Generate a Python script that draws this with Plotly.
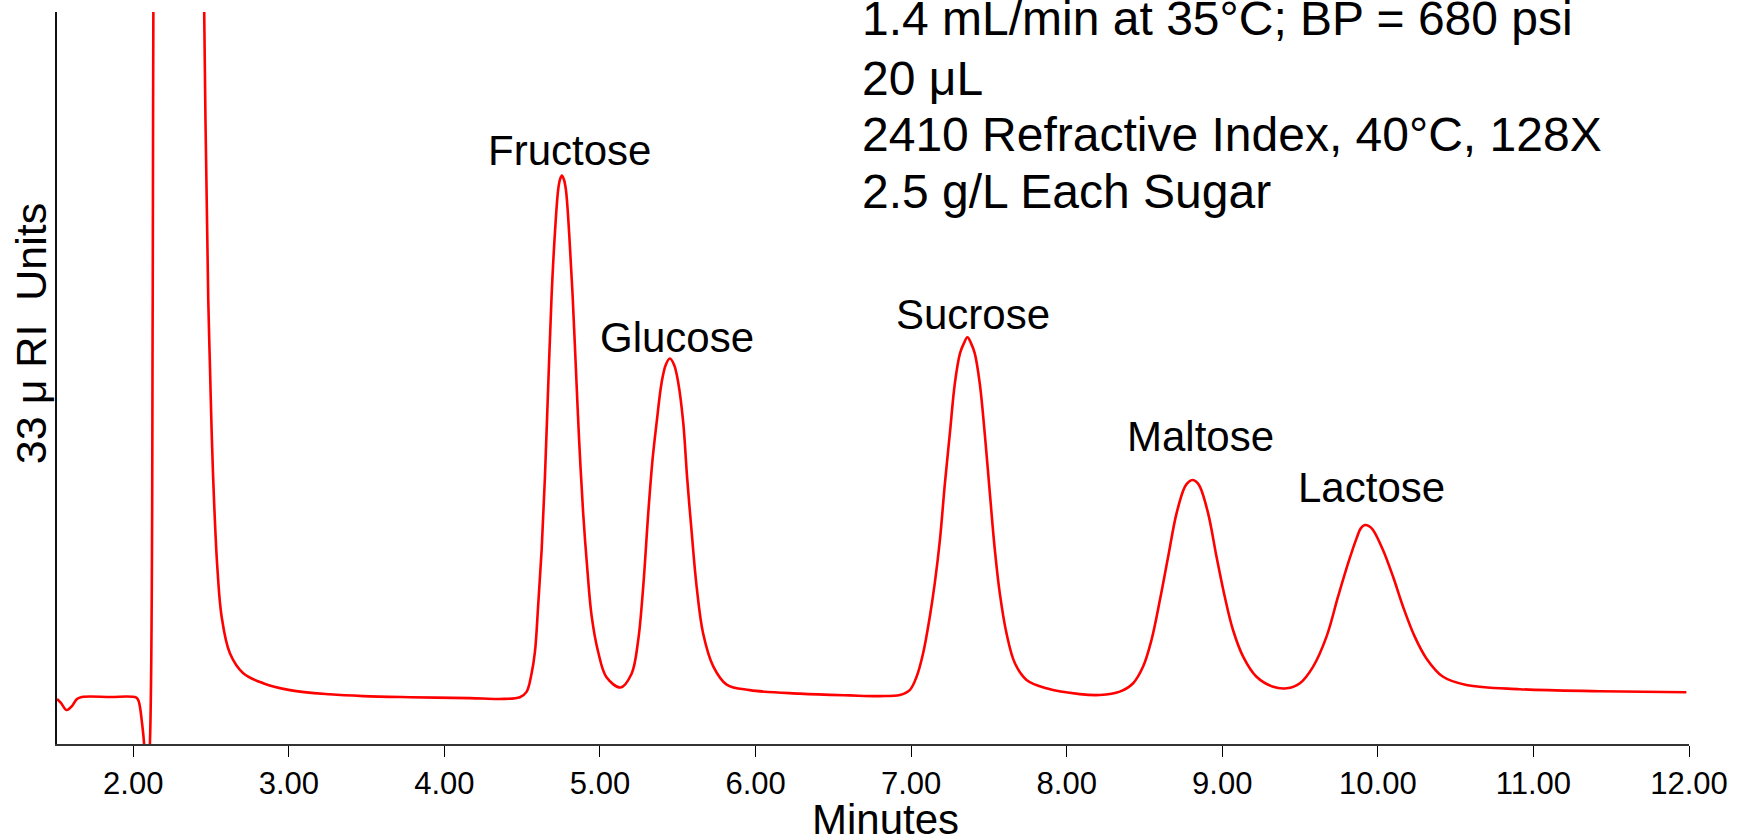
import plotly.graph_objects as go

# Chromatogram trace: retention time (min) and refractive-index response (µRIU)
time_min = [
    1.510, 1.535, 1.572, 1.606, 1.638, 1.670, 1.850, 2.017, 2.032, 2.043,
    2.054, 2.069, 2.085, 2.107, 2.125, 2.129, 2.140, 2.300, 2.445, 2.456,
    2.482, 2.493, 2.504, 2.519, 2.540, 2.568, 2.621, 2.707, 2.835, 3.007,
    3.264, 3.478, 3.779, 4.164, 4.357, 4.485, 4.528, 4.560, 4.582, 4.603,
    4.625, 4.646, 4.667, 4.689, 4.710, 4.731, 4.743, 4.755, 4.768, 4.781,
    4.802, 4.824, 4.845, 4.866, 4.892, 4.918, 4.946, 4.988, 5.042, 5.132,
    5.203, 5.245, 5.278, 5.310, 5.338, 5.364, 5.396, 5.423, 5.449, 5.476,
    5.503, 5.535, 5.560, 5.589, 5.621, 5.663, 5.728, 5.814, 5.963, 6.285,
    6.606, 6.799, 6.927, 6.991, 7.035, 7.077, 7.120, 7.152, 7.185, 7.217,
    7.249, 7.281, 7.314, 7.338, 7.362, 7.386, 7.409, 7.441, 7.473, 7.506,
    7.538, 7.570, 7.613, 7.667, 7.742, 7.870, 8.084, 8.213, 8.341, 8.427,
    8.491, 8.545, 8.599, 8.652, 8.706, 8.760, 8.785, 8.809, 8.833, 8.856,
    8.909, 8.963, 9.016, 9.069, 9.134, 9.220, 9.327, 9.413, 9.499, 9.584,
    9.670, 9.744, 9.809, 9.863, 9.890, 9.916, 9.943, 9.969, 10.033, 10.098,
    10.162, 10.237, 10.312, 10.419, 10.569, 10.912, 11.426, 11.983,
]
signal_uriu = [
    2.03, 1.85, 1.53, 1.71, 2.03, 2.12, 2.12, 2.10, 1.98, 1.67,
    1.08, 0.05, -2.50, 0.05, 20.02, 32.91, 45.00, 80.00, 45.00, 32.91,
    20.02, 17.01, 14.02, 11.00, 7.99, 5.74, 4.09, 3.19, 2.74, 2.43,
    2.24, 2.16, 2.11, 2.07, 2.03, 2.11, 2.35, 3.17, 4.16, 6.29,
    8.75, 12.02, 16.12, 20.22, 23.01, 24.98, 25.45, 25.63, 25.45, 24.98,
    23.01, 20.22, 16.94, 13.67, 10.39, 7.93, 5.79, 4.16, 3.01, 2.55,
    3.17, 4.65, 7.11, 10.39, 12.84, 14.49, 16.29, 17.10, 17.38, 17.10,
    16.29, 14.49, 12.02, 9.57, 7.11, 4.98, 3.50, 2.68, 2.43, 2.27,
    2.19, 2.16, 2.21, 2.43, 3.03, 4.09, 5.74, 7.25, 9.20, 11.75,
    14.01, 16.26, 17.61, 18.05, 18.34, 18.05, 17.61, 16.26, 14.01, 11.30,
    8.75, 6.79, 4.99, 3.64, 2.89, 2.51, 2.25, 2.21, 2.36, 2.74,
    3.49, 4.69, 6.49, 8.44, 10.40, 11.60, 11.82, 11.90, 11.82, 11.60,
    10.40, 8.44, 6.64, 5.14, 3.94, 3.03, 2.58, 2.51, 2.74, 3.49,
    4.84, 6.64, 8.15, 9.27, 9.72, 9.87, 9.82, 9.65, 8.75, 7.54,
    6.19, 4.84, 3.86, 3.03, 2.66, 2.47, 2.38, 2.33,
]

# Peak identification
peak_names = ["Fructose", "Glucose", "Sucrose", "Maltose", "Lactose"]
peak_times = [4.755, 5.449, 7.362, 8.809, 9.916]

# Run conditions
conditions = [
    "1.4 mL/min at 35°C; BP = 680 psi",
    "20 μL",
    "2410 Refractive Index, 40°C, 128X",
    "2.5 g/L Each Sugar",
]

x_ticks = [2, 3, 4, 5, 6, 7, 8, 9, 10, 11, 12]
x_range = [1.5097, 12.0]
y_range = [0, 33]

FONT = "Liberation Sans, Arial, Helvetica, sans-serif"

fig = go.Figure()
fig.add_trace(go.Scatter(
    x=time_min, y=signal_uriu, mode="lines",
    line=dict(color="#ff0000", width=2.6, shape="spline", smoothing=1.0),
    hoverinfo="skip", showlegend=False,
))

# label offsets (px) from each peak apex
label_shift = {
    "Fructose": (8, 25), "Glucose": (7, 21), "Sucrose": (6, 23),
    "Maltose": (8, 44), "Lactose": (7, 38),
}
annotations = []
for name, t in zip(peak_names, peak_times):
    i = min(range(len(time_min)), key=lambda k: abs(time_min[k] - t))
    dx, dy = label_shift[name]
    annotations.append(dict(
        x=time_min[i], y=signal_uriu[i], xref="x", yref="y",
        text=name, showarrow=False, xanchor="center", yanchor="middle",
        xshift=dx, yshift=dy, font=dict(family=FONT, size=42, color="black"),
    ))

cond_y = [0.9918, 0.9092, 0.8320, 0.7548]
for line, yy in zip(conditions, cond_y):
    annotations.append(dict(
        x=0.492, y=yy, xref="paper", yref="paper", text=line,
        showarrow=False, xanchor="left", yanchor="middle",
        font=dict(family=FONT, size=48, color="black"),
    ))

annotations.append(dict(
    x=0.5074, y=-0.1025, xref="paper", yref="paper", text="Minutes",
    showarrow=False, xanchor="center", yanchor="middle",
    font=dict(family=FONT, size=42, color="black"),
))
annotations.append(dict(
    x=-0.0159, y=0.560, xref="paper", yref="paper",
    text="33 μ RI\u00a0\u00a0Units", textangle=-90,
    showarrow=False, xanchor="center", yanchor="middle",
    font=dict(family=FONT, size=43, color="black"),
))

fig.update_layout(
    width=1742, height=836,
    margin=dict(l=57, r=53, t=12, b=92, pad=0),
    paper_bgcolor="white", plot_bgcolor="white",
    annotations=annotations,
    xaxis=dict(
        range=x_range, tickvals=x_ticks, tickformat=".2f",
        showgrid=False, zeroline=False,
        showline=True, linecolor="#333333", linewidth=1.5,
        ticks="outside", ticklen=11, tickwidth=1.2, tickcolor="black",
        tickfont=dict(family=FONT, size=31, color="black"),
    ),
    yaxis=dict(
        range=y_range, showgrid=False, zeroline=False,
        showline=True, linecolor="#111111", linewidth=1.5,
        ticks="", showticklabels=False,
    ),
)

fig.write_html("out.html")
